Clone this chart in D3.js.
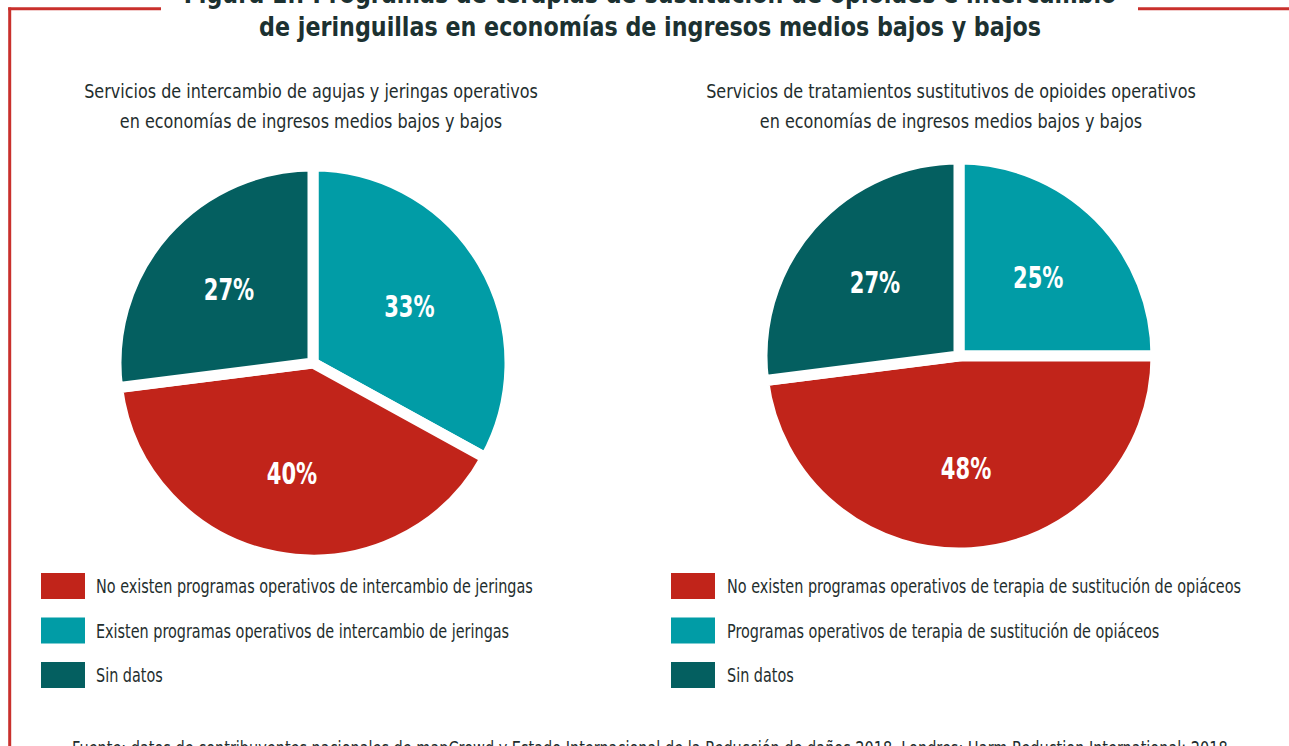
<!DOCTYPE html>
<html><head><meta charset="utf-8">
<script src="https://cdn.jsdelivr.net/npm/d3@7"></script>
<style>
body{margin:0;background:#fff;}
svg{display:block;}
text{font-family:"DejaVu Sans Condensed","DejaVu Sans",sans-serif;}
</style>
</head><body>
<svg id="chart" width="1289" height="746"></svg>
<script>
// ---- data ----
const titleLines = [
  "Figura 1.: Programas de terapias de sustitución de opioides e intercambio",
  "de jeringuillas en economías de ingresos medios bajos y bajos"
];
const leftSubtitle = [
  "Servicios de intercambio de agujas y jeringas operativos",
  "en economías de ingresos medios bajos y bajos"
];
const rightSubtitle = [
  "Servicios de tratamientos sustitutivos de opioides operativos",
  "en economías de ingresos medios bajos y bajos"
];
const leftCategories = [
  "No existen programas operativos de intercambio de jeringas",
  "Existen programas operativos de intercambio de jeringas",
  "Sin datos"
];
const leftValues = [40, 33, 27];
const rightCategories = [
  "No existen programas operativos de terapia de sustitución de opiáceos",
  "Programas operativos de terapia de sustitución de opiáceos",
  "Sin datos"
];
const rightValues = [48, 25, 27];
// clockwise order of slices starting at 12 o'clock (indices into the arrays above)
const sliceOrder = [1, 0, 2];
const colors = ["#c1241a", "#019ca6", "#045f60"];
const sourceText = "Fuente: datos de contribuyentes nacionales de mapCrowd y Estado Internacional de la Reducción de daños 2018. Londres: Harm Reduction International; 2018.";

// ---- drawing ----
const svg = d3.select("#chart");
const textColor = "#1f2e2e";
const frameColor = "#c9302c";

// horizontally condense text to mimic a condensed typeface
function squeeze(sel, k) {
  sel.each(function () {
    const l = this.getComputedTextLength();
    d3.select(this).attr("textLength", l * k).attr("lengthAdjust", "spacingAndGlyphs");
  });
}

// frame
svg.append("line").attr("x1", 9.7).attr("x2", 9.7).attr("y1", 7.5).attr("y2", 746)
  .attr("stroke", frameColor).attr("stroke-width", 3);
svg.append("line").attr("x1", 8.2).attr("x2", 161).attr("y1", 8.7).attr("y2", 8.7)
  .attr("stroke", frameColor).attr("stroke-width", 3);
svg.append("line").attr("x1", 1138).attr("x2", 1289).attr("y1", 8.7).attr("y2", 8.7)
  .attr("stroke", frameColor).attr("stroke-width", 3);

// title
svg.selectAll("text.title").data(titleLines).join("text")
  .attr("class", "title")
  .attr("x", 650).attr("y", (d, i) => 3 + i * 33)
  .attr("text-anchor", "middle")
  .attr("font-size", 26).attr("font-weight", "bold")
  .attr("fill", "#1c3131")
  .text(d => d)
  .call(squeeze, 0.95);

function drawPanel(cfg) {
  const g = svg.append("g");
  // subtitle
  g.selectAll("text.sub").data(cfg.subtitle).join("text")
    .attr("class", "sub")
    .attr("x", cfg.sx).attr("y", (d, i) => 98 + i * 30)
    .attr("text-anchor", "middle")
    .attr("font-size", 20)
    .attr("fill", textColor)
    .text(d => d)
    .call(squeeze, 0.89);

  const pie = d3.pie().sort(null).value(d => d.value);
  const arcs = pie(sliceOrder.map(i => ({ idx: i, value: cfg.values[i] })));
  const R = 197;
  const arc = d3.arc().innerRadius(0).outerRadius(R);
  const labelArc = d3.arc().innerRadius(cfg.labelR).outerRadius(cfg.labelR);
  const pg = g.append("g").attr("transform", `translate(${cfg.cx},${cfg.cy})`);
  pg.selectAll("path").data(arcs).join("path")
    .attr("d", arc)
    .attr("fill", d => colors[d.data.idx])
    .attr("stroke", "#fff").attr("stroke-width", 11)
    .attr("stroke-linejoin", "miter");
  pg.selectAll("text").data(arcs).join("text")
    .attr("transform", d => `translate(${labelArc.centroid(d)})`)
    .attr("text-anchor", "middle")
    .attr("dy", "0.36em")
    .attr("font-size", 30).attr("font-weight", "bold")
    .attr("fill", "#fff")
    .text(d => d.data.value + "%")
    .call(squeeze, 0.78);

  // legend
  const lg = g.append("g");
  const rows = lg.selectAll("g").data(cfg.categories).join("g")
    .attr("transform", (d, i) => `translate(${cfg.lx},${573 + i * 44.5})`);
  rows.append("rect").attr("x", 0).attr("y", 0).attr("width", 44).attr("height", 26)
    .attr("fill", (d, i) => colors[i]);
  rows.append("g")
    .attr("transform", `translate(${cfg.tx - cfg.lx},13) scale(0.8,1)`)
    .append("text").attr("x", 0).attr("y", 0).attr("dy", "0.36em")
    .attr("font-size", 20).attr("fill", textColor)
    .text(d => d);
}

drawPanel({ cx: 313, cy: 363, sx: 311, values: leftValues, categories: leftCategories,
  subtitle: leftSubtitle, labelR: 112, lx: 41, tx: 96 });
drawPanel({ cx: 959, cy: 356, sx: 951, values: rightValues, categories: rightCategories,
  subtitle: rightSubtitle, labelR: 112, lx: 671, tx: 727 });

// source (partially cut at the bottom, as in the original figure)
svg.append("text").attr("x", 72).attr("y", 755)
  .attr("font-size", 19).attr("fill", textColor)
  .text(sourceText)
  .call(squeeze, 0.847);
</script>
</body></html>
